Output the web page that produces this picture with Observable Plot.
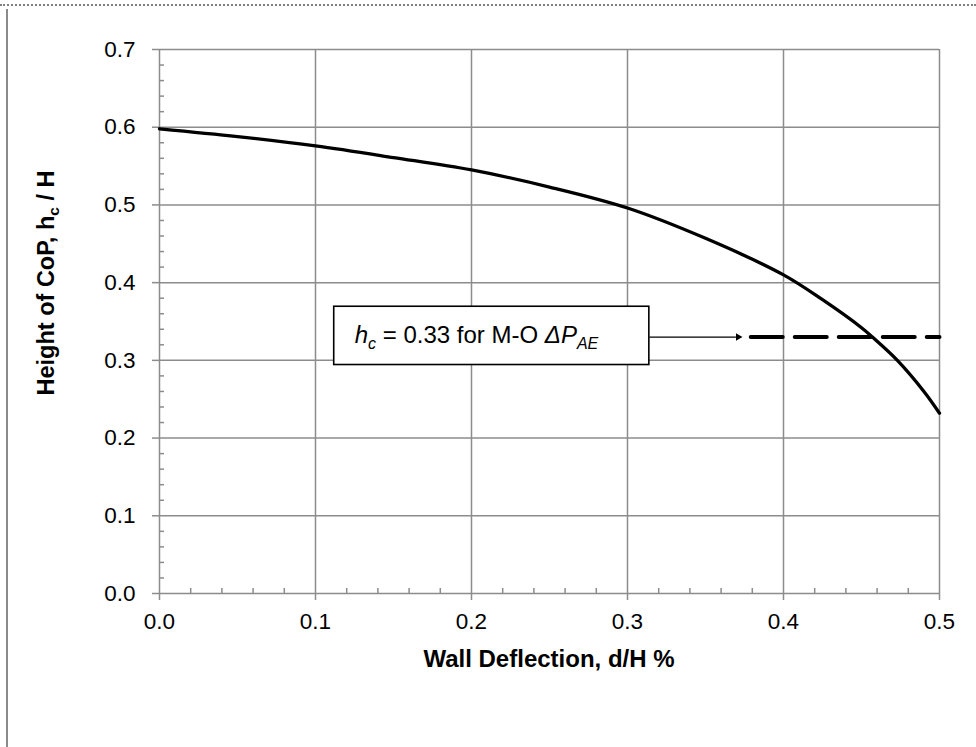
<!DOCTYPE html>
<html><head><meta charset="utf-8">
<script src="https://cdn.jsdelivr.net/npm/d3@7"></script>
<script src="https://cdn.jsdelivr.net/npm/@observablehq/plot@0.6"></script>
<style>
body{margin:0;background:#fff;}
#wrap{position:relative;width:976px;height:747px;overflow:hidden;}
#topline{position:absolute;left:0;top:4px;width:976px;border-top:2px dotted #808080;}
#leftline{position:absolute;left:6px;top:9px;height:738px;border-left:2px solid #8a8a8a;}
</style></head><body>
<div id="wrap"><div id="chart"></div><div id="topline"></div><div id="leftline"></div></div>
<script>
// Curve: height of centre of pressure vs wall deflection
const deflection = [0, 0.05, 0.1, 0.15, 0.2, 0.25, 0.3, 0.35, 0.4, 0.425, 0.45, 0.457, 0.473, 0.49, 0.5];
const hcOverH    = [0.598, 0.588, 0.576, 0.561, 0.545, 0.523, 0.496, 0.457, 0.41, 0.378, 0.342, 0.33, 0.30, 0.26, 0.232];

// M-O reference line
const moX = [0.379, 0.5];
const moY = [0.33, 0.33];

// Annotation box and arrow (data units)
const boxX = [0.112, 0.314];
const boxY = [0.294, 0.369];
const arrowX = [0.314, 0.3735];
const arrowY = 0.33;

const xTicks = [0, 0.1, 0.2, 0.3, 0.4, 0.5];
const yTicks = [0, 0.1, 0.2, 0.3, 0.4, 0.5, 0.6, 0.7];
const xMinor = [0.02,0.04,0.06,0.08,0.12,0.14,0.16,0.18,0.22,0.24,0.26,0.28,0.32,0.34,0.36,0.38,0.42,0.44,0.46,0.48];
const yMinor = [0.02,0.04,0.06,0.08,0.12,0.14,0.16,0.18,0.22,0.24,0.26,0.28,0.32,0.34,0.36,0.38,0.42,0.44,0.46,0.48,0.52,0.54,0.56,0.58,0.62,0.64,0.66,0.68];

const xTitle = "Wall Deflection, d/H %";
const yTitleMain = "Height of CoP, h";
const yTitleSub = "c";
const yTitleEnd = " / H";

const curve = deflection.map((d, i) => ({x: d, y: hcOverH[i]}));
const moLine = moX.map((d, i) => ({x: d, y: moY[i]}));
const FONT = "'Liberation Sans', Arial, Helvetica, sans-serif";
const GRAY = "#8c8c8c";
const fmt = d => d.toFixed(1);

const chart = Plot.plot({
  width: 976, height: 747,
  marginLeft: 159, marginRight: 37, marginTop: 49, marginBottom: 154,
  style: {fontFamily: FONT, fontSize: "22px", color: "black", background: "white"},
  x: {domain: [0, 0.5]},
  y: {domain: [0, 0.7]},
  marks: [
    Plot.gridX(xTicks, {stroke: GRAY, strokeOpacity: 1, strokeWidth: 1.5}),
    Plot.gridY(yTicks, {stroke: GRAY, strokeOpacity: 1, strokeWidth: 1.5}),
    Plot.axisX(xTicks, {tickSize: 7, tickPadding: 13, tickFormat: fmt, stroke: GRAY, strokeWidth: 1.5, fill: "black", fontSize: 22.5, label: null}),
    Plot.axisY(yTicks, {tickSize: 7, tickPadding: 17, tickFormat: fmt, stroke: GRAY, strokeWidth: 1.5, fill: "black", fontSize: 22.5, label: null}),
    Plot.axisX(xMinor, {tickSize: 5, dy: -5, stroke: GRAY, strokeWidth: 1.5, fill: "none", tickFormat: () => "", label: null}),
    Plot.axisY(yMinor, {tickSize: 5, dx: 5, stroke: GRAY, strokeWidth: 1.5, fill: "none", tickFormat: () => "", label: null}),
    Plot.line(curve, {x: "x", y: "y", stroke: "black", strokeWidth: 3.3, curve: "catmull-rom"}),
    Plot.line(moLine, {x: "x", y: "y", stroke: "black", strokeWidth: 4, strokeDasharray: "32,12"}),
    Plot.link([0], {x1: () => arrowX[0], x2: () => arrowX[1] - 0.004, y1: () => arrowY, y2: () => arrowY, stroke: "black", strokeWidth: 1.3}),
    Plot.dot([0], {x: () => arrowX[1], y: () => arrowY, symbol: "triangle2", rotate: 90, r: 3.6, fill: "black", stroke: "none", dx: -4}),
    Plot.rect([0], {x1: () => boxX[0], x2: () => boxX[1], y1: () => boxY[0], y2: () => boxY[1], fill: "white", stroke: "black", strokeWidth: 1.6})
  ]
});

document.getElementById("chart").appendChild(chart);

const sx = chart.scale("x"), sy = chart.scale("y");
const svg = d3.select(chart);

// X title
svg.append("text")
  .attr("x", sx.apply(0.25)).attr("y", 667)
  .attr("text-anchor", "middle")
  .attr("font-family", FONT).attr("font-weight", "bold").attr("font-size", 24)
  .attr("fill", "black")
  .text(xTitle);

// Y title with subscript
const yt = svg.append("text")
  .attr("transform", `translate(54,${(sy.apply(0.7) + sy.apply(0)) / 2 - 38}) rotate(-90)`)
  .attr("text-anchor", "middle")
  .attr("font-family", FONT).attr("font-weight", "bold").attr("font-size", 23.5)
  .attr("fill", "black");
yt.append("tspan").text(yTitleMain);
yt.append("tspan").attr("font-size", 15.5).attr("dy", 5).text(yTitleSub);
yt.append("tspan").attr("dy", -5).text(yTitleEnd);

// Annotation text
const bx = sx.apply(boxX[0]) + 21;
const by = (sy.apply(boxY[0]) + sy.apply(boxY[1])) / 2 + 8;
const at = svg.append("text")
  .attr("x", bx).attr("y", by)
  .attr("text-anchor", "start")
  .attr("font-family", FONT).attr("font-size", 24).attr("fill", "black");
at.append("tspan").attr("font-style", "italic").text("h");
at.append("tspan").attr("font-style", "italic").attr("font-size", 16).attr("dy", 6).text("c");
at.append("tspan").attr("dy", -6).text(" = 0.33 for M-O ");
at.append("tspan").attr("font-style", "italic").text("ΔP");
at.append("tspan").attr("font-style", "italic").attr("font-size", 16).attr("dy", 6).text("AE");
</script>
</body></html>
